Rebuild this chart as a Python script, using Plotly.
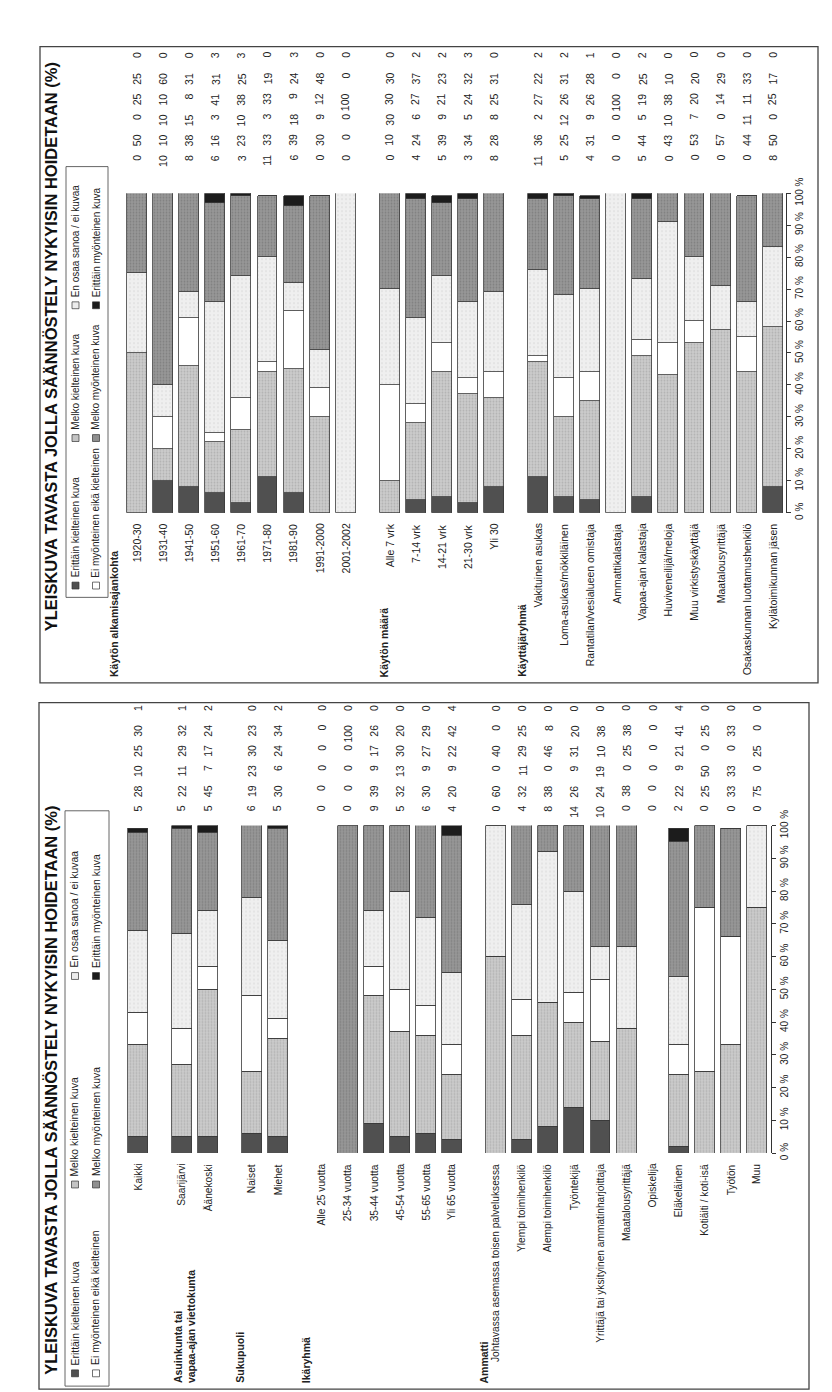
import plotly.graph_objects as go

W, H = 832, 1392
FONT = "Liberation Sans, Arial, sans-serif"

# ---------------- data ----------------
series_names = [
    "Erittäin kielteinen kuva",
    "Melko kielteinen kuva",
    "Ei myönteinen eikä kielteinen",
    "En osaa sanoa / ei kuvaa",
    "Melko myönteinen kuva",
    "Erittäin myönteinen kuva",
]

# Lower panel (background variables)
c1_headings = ["", "Asuinkunta tai<br>vapaa-ajan viettokunta", "Sukupuoli", "Ikäryhmä", "Ammatti"]
c1_categories = [
    "Kaikki",
    "Saarijärvi", "Äänekoski",
    "Naiset", "Miehet",
    "Alle 25 vuotta", "25-34 vuotta", "35-44 vuotta", "45-54 vuotta", "55-65 vuotta", "Yli 65 vuotta",
    "Johtavassa asemassa toisen palveluksessa", "Ylempi toimihenkilö", "Alempi toimihenkilö",
    "Työntekijä", "Yrittäjä tai yksityinen ammatinharjoittaja", "Maatalousyrittäjä",
    "Opiskelija", "Eläkeläinen", "Kotiäiti / koti-isä", "Työtön", "Muu",
]
c1_group = [0, 1, 1, 2, 2, 3, 3, 3, 3, 3, 3, 4, 4, 4, 4, 4, 4, 4, 4, 4, 4, 4]
c1_erittain_kielteinen = [5, 5, 5, 6, 5, 0, 0, 9, 5, 6, 4, 0, 4, 8, 14, 10, 0, 0, 2, 0, 0, 0]
c1_melko_kielteinen = [28, 22, 45, 19, 30, 0, 0, 39, 32, 30, 20, 60, 32, 38, 26, 24, 38, 0, 22, 25, 33, 75]
c1_ei_kumpikaan = [10, 11, 7, 23, 6, 0, 0, 9, 13, 9, 9, 0, 11, 0, 9, 19, 0, 0, 9, 50, 33, 0]
c1_en_osaa = [25, 29, 17, 30, 24, 0, 0, 17, 30, 27, 22, 40, 29, 46, 31, 10, 25, 0, 21, 0, 0, 25]
c1_melko_myonteinen = [30, 32, 24, 23, 34, 0, 100, 26, 20, 29, 42, 0, 25, 8, 20, 38, 38, 0, 41, 25, 33, 0]
c1_erittain_myonteinen = [1, 1, 2, 0, 2, 0, 0, 0, 0, 0, 4, 0, 0, 0, 0, 0, 0, 0, 4, 0, 0, 0]

# Upper panel (use of the regulation)
c2_headings = ["Käytön alkamisajankohta", "Käytön määrä", "Käyttäjäryhmä"]
c2_categories = [
    "1920-30", "1931-40", "1941-50", "1951-60", "1961-70", "1971-80", "1981-90", "1991-2000", "2001-2002",
    "Alle 7 vrk", "7-14 vrk", "14-21 vrk", "21-30 vrk", "Yli 30",
    "Vakituinen asukas", "Loma-asukas/mökkiläinen", "Rantatilan/vesialueen omistaja", "Ammattikalastaja",
    "Vapaa-ajan kalastaja", "Huviveneilijä/meloja", "Muu virkistyskäyttäjä", "Maatalousyrittäjä",
    "Osakaskunnan luottamushenkilö", "Kylätoimikunnan jäsen",
]
c2_group = [0] * 9 + [1] * 5 + [2] * 10
c2_erittain_kielteinen = [0, 10, 8, 6, 3, 11, 6, 0, 0, 0, 4, 5, 3, 8, 11, 5, 4, 0, 5, 0, 0, 0, 0, 8]
c2_melko_kielteinen = [50, 10, 38, 16, 23, 33, 39, 30, 0, 10, 24, 39, 34, 28, 36, 25, 31, 0, 44, 43, 53, 57, 44, 50]
c2_ei_kumpikaan = [0, 10, 15, 3, 10, 3, 18, 9, 0, 30, 6, 9, 5, 8, 2, 12, 9, 0, 5, 10, 7, 0, 11, 0]
c2_en_osaa = [25, 10, 8, 41, 38, 33, 9, 12, 100, 30, 27, 21, 24, 25, 27, 26, 26, 100, 19, 38, 20, 14, 11, 25]
c2_melko_myonteinen = [25, 60, 31, 31, 25, 19, 24, 48, 0, 30, 37, 23, 32, 31, 22, 31, 28, 0, 25, 10, 20, 29, 33, 17]
c2_erittain_myonteinen = [0, 0, 0, 3, 3, 0, 3, 0, 0, 0, 2, 2, 3, 0, 2, 2, 1, 0, 2, 0, 0, 0, 0, 0]

title_text = "YLEISKUVA TAVASTA JOLLA SÄÄNNÖSTELY NYKYISIN HOIDETAAN (%)"
tick_vals = [0, 10, 20, 30, 40, 50, 60, 70, 80, 90, 100]
tick_text = ["0 %", "10 %", "20 %", "30 %", "40 %", "50 %", "60 %", "70 %", "80 %", "90 %", "100 %"]

# ---------------- styling / layout (pixel geometry of each rotated page) ----------------
series_colors = ["#505050", "#c4c4c4", "#ffffff", "#ececec", "#8f8f8f", "#1c1c1c"]
series_patterns = [
    None,
    dict(shape=".", bgcolor="#cbcbcb", fgcolor="#9a9a9a", size=3, solidity=0.3),
    None,
    dict(shape=".", bgcolor="#efefef", fgcolor="#d2d2d2", size=4, solidity=0.2),
    dict(shape=".", bgcolor="#979797", fgcolor="#6a6a6a", size=3, solidity=0.3),
    None,
]
GROUP_GAP = 1.68      # distance (in bar slots) between last bar of a group and first of next
BAR_WIDTH = 0.76

panels = {
    "lower": dict(
        frame=(31, 690, 801, 1388), bar_x0=130, slot=26.1, axis_x=763, x_left=100,
        y0=1148, y100=815, num_tops=[792.5, 772, 751.5, 731, 710.5, 690.5],
        label_top=1157, heading_bottom=1384, label_size=10.2,
        heading_shift=[0, 0.1, -0.45, -0.6, -0.45],
        title_x=43, title_bottom=1376, title_size=16.5, legend_size=10.4,
        legend_box=(57, 800, 101, 1385), legend_rows=(67, 88), legend_cols=(1372, 1180, 968),
    ),
    "upper": dict(
        frame=(32, 23, 810, 670), bar_x0=129, slot=26.1, axis_x=778, x_left=100,
        y0=497, y100=172, num_tops=[131, 110, 89.5, 68.5, 47.5, 26.5],
        label_top=506, heading_bottom=666, label_size=10.5,
        heading_shift=[-0.88, -0.2, -0.6],
        title_x=43, title_bottom=620, title_size=16.5, legend_size=10,
        legend_box=(58, 145, 100, 583), legend_rows=(67.5, 88), legend_cols=(571, 421, 286),
    ),
}


def px(x):
    return x / W


def py(y):
    return 1 - y / H


fig = go.Figure()
annotations = []
shapes = []


def add_panel(key, xa, ya, cats, groups, headings, series):
    cfg = panels[key]
    pos = [i + (GROUP_GAP - 1) * g for i, g in enumerate(groups)]
    xr0 = -(cfg["bar_x0"] - cfg["x_left"]) / cfg["slot"]
    xr1 = (cfg["axis_x"] - cfg["bar_x0"]) / cfg["slot"]
    axname = "xaxis" if xa == "x" else "xaxis" + xa[1:]
    ayname = "yaxis" if ya == "y" else "yaxis" + ya[1:]
    fig.layout[axname] = dict(
        domain=[px(cfg["x_left"]), px(cfg["axis_x"])], range=[xr0, xr1],
        visible=False, anchor=ya,
    )
    fig.layout[ayname] = dict(
        domain=[py(cfg["y0"]), py(cfg["y100"])], range=[0, 100], anchor=xa, side="right",
        tickvals=tick_vals, ticktext=tick_text, tickangle=-90, showgrid=False, zeroline=False,
        showline=True, linecolor="#333", linewidth=1, ticks="outside", ticklen=4, tickcolor="#333",
        tickfont=dict(family=FONT, size=10, color="#222"),
    )
    for k, vals in enumerate(series):
        marker = dict(color=series_colors[k], line=dict(color="#3a3a3a", width=0.8))
        if series_patterns[k]:
            marker["pattern"] = series_patterns[k]
        fig.add_trace(go.Bar(
            x=pos, y=vals, xaxis=xa, yaxis=ya, width=BAR_WIDTH, name=series_names[k],
            marker=marker, showlegend=False,
        ))
    # numbers table
    for i, p in enumerate(pos):
        for k in range(6):
            annotations.append(dict(
                x=p, xref=xa, y=py(cfg["num_tops"][k]), yref="paper", text=str(series[k][i]),
                showarrow=False, textangle=-90, xanchor="center", yanchor="top",
                font=dict(family=FONT, size=10.5, color="#222"),
            ))
        annotations.append(dict(
            x=p, xref=xa, y=py(cfg["label_top"]), yref="paper", text=cats[i],
            showarrow=False, textangle=-90, xanchor="center", yanchor="top",
            font=dict(family=FONT, size=cfg["label_size"], color="#222"),
        ))
    # group headings
    for g, htxt in enumerate(headings):
        if not htxt:
            continue
        first = groups.index(g)
        annotations.append(dict(
            x=pos[first] + cfg["heading_shift"][g], xref=xa, y=py(cfg["heading_bottom"]), yref="paper",
            text="<b>" + htxt.replace("<br>", "</b><br><b>") + "</b>", showarrow=False, textangle=-90,
            xanchor="center", yanchor="bottom", align="left",
            font=dict(family=FONT, size=10.5, color="#222"),
        ))
    # frame
    fx0, fy0, fx1, fy1 = cfg["frame"]
    shapes.append(dict(type="rect", xref="paper", yref="paper", x0=px(fx0), x1=px(fx1),
                       y0=py(fy1), y1=py(fy0), line=dict(color="#444", width=1.3)))
    # title
    annotations.append(dict(
        x=px(cfg["title_x"]), xref="paper", y=py(cfg["title_bottom"]), yref="paper",
        text="<b>" + title_text + "</b>", showarrow=False, textangle=-90,
        xanchor="center", yanchor="bottom", font=dict(family=FONT, size=cfg["title_size"], color="#111"),
    ))
    # legend (rotated box drawn by hand)
    lx0, ly0, lx1, ly1 = cfg["legend_box"]
    shapes.append(dict(type="rect", xref="paper", yref="paper", x0=px(lx0), x1=px(lx1),
                       y0=py(ly1), y1=py(ly0), line=dict(color="#555", width=0.9)))
    entry_layout = {0: (0, 0), 1: (0, 1), 3: (0, 2), 2: (1, 0), 4: (1, 1), 5: (1, 2)}
    for k, (r, c) in entry_layout.items():
        xr = cfg["legend_rows"][r]
        yc = cfg["legend_cols"][c]
        shapes.append(dict(type="rect", xref="paper", yref="paper",
                           x0=px(xr - 3.5), x1=px(xr + 3.5), y0=py(yc + 3.5), y1=py(yc - 3.5),
                           fillcolor=series_colors[k], line=dict(color="#333", width=0.7)))
        annotations.append(dict(
            x=px(xr), xref="paper", y=py(yc - 6), yref="paper", text=series_names[k],
            showarrow=False, textangle=-90, xanchor="center", yanchor="bottom",
            font=dict(family=FONT, size=cfg["legend_size"], color="#222"),
        ))


add_panel("lower", "x", "y", c1_categories, c1_group, c1_headings,
          [c1_erittain_kielteinen, c1_melko_kielteinen, c1_ei_kumpikaan,
           c1_en_osaa, c1_melko_myonteinen, c1_erittain_myonteinen])
add_panel("upper", "x2", "y2", c2_categories, c2_group, c2_headings,
          [c2_erittain_kielteinen, c2_melko_kielteinen, c2_ei_kumpikaan,
           c2_en_osaa, c2_melko_myonteinen, c2_erittain_myonteinen])

fig.update_layout(
    width=W, height=H, autosize=False, barmode="stack", bargap=0,
    margin=dict(l=0, r=0, t=0, b=0),
    paper_bgcolor="white", plot_bgcolor="rgba(0,0,0,0)",
    annotations=annotations, shapes=shapes, showlegend=False,
    font=dict(family=FONT, color="#222"),
)

fig.write_html("out.html", config={"displayModeBar": False})
